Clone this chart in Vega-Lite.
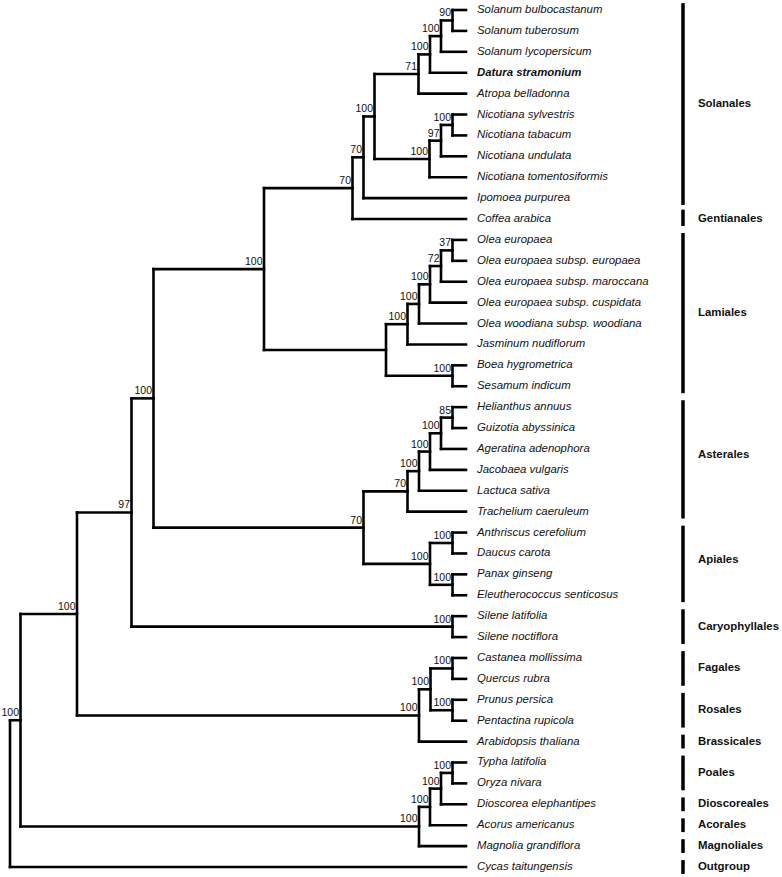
{
  "$schema": "https://vega.github.io/schema/vega-lite/v6.json",
  "width": 782,
  "height": 877,
  "padding": 0,
  "autosize": {"type": "fit", "contains": "padding"},
  "background": "white",
  "config": {"view": {"stroke": null}},
  "datasets": {
    "tree": [
      {"id": "L0", "parent": "A", "x": 466, "y": 0, "label": "Solanum bulbocastanum"},
      {"id": "L1", "parent": "A", "x": 466, "y": 1, "label": "Solanum tuberosum"},
      {"id": "L2x", "parent": "B", "x": 466, "y": 2, "label": "Solanum lycopersicum"},
      {"id": "L3", "parent": "C", "x": 466, "y": 3, "label": "Datura stramonium"},
      {"id": "L4", "parent": "D", "x": 466, "y": 4, "label": "Atropa belladonna"},
      {"id": "L5", "parent": "N1", "x": 466, "y": 5, "label": "Nicotiana sylvestris"},
      {"id": "L6", "parent": "N1", "x": 466, "y": 6, "label": "Nicotiana tabacum"},
      {"id": "L7", "parent": "N2", "x": 466, "y": 7, "label": "Nicotiana undulata"},
      {"id": "L8", "parent": "N3", "x": 466, "y": 8, "label": "Nicotiana tomentosiformis"},
      {"id": "L9", "parent": "F", "x": 466, "y": 9, "label": "Ipomoea purpurea"},
      {"id": "L10", "parent": "G", "x": 466, "y": 10, "label": "Coffea arabica"},
      {"id": "L11", "parent": "O1", "x": 466, "y": 11, "label": "Olea europaea"},
      {"id": "L12", "parent": "O1", "x": 466, "y": 12, "label": "Olea europaea subsp. europaea"},
      {"id": "L13", "parent": "O2", "x": 466, "y": 13, "label": "Olea europaea subsp. maroccana"},
      {"id": "L14", "parent": "O3", "x": 466, "y": 14, "label": "Olea europaea subsp. cuspidata"},
      {"id": "L15", "parent": "O4", "x": 466, "y": 15, "label": "Olea woodiana subsp. woodiana"},
      {"id": "L16", "parent": "O5", "x": 466, "y": 16, "label": "Jasminum nudiflorum"},
      {"id": "L17", "parent": "BS", "x": 466, "y": 17, "label": "Boea hygrometrica"},
      {"id": "L18", "parent": "BS", "x": 466, "y": 18, "label": "Sesamum indicum"},
      {"id": "L19", "parent": "H1", "x": 466, "y": 19, "label": "Helianthus annuus"},
      {"id": "L20", "parent": "H1", "x": 466, "y": 20, "label": "Guizotia abyssinica"},
      {"id": "L21", "parent": "H2", "x": 466, "y": 21, "label": "Ageratina adenophora"},
      {"id": "L22", "parent": "H3", "x": 466, "y": 22, "label": "Jacobaea vulgaris"},
      {"id": "L23", "parent": "H4", "x": 466, "y": 23, "label": "Lactuca sativa"},
      {"id": "L24", "parent": "H5", "x": 466, "y": 24, "label": "Trachelium caeruleum"},
      {"id": "L25", "parent": "A1", "x": 466, "y": 25, "label": "Anthriscus cerefolium"},
      {"id": "L26", "parent": "A1", "x": 466, "y": 26, "label": "Daucus carota"},
      {"id": "L27", "parent": "A2", "x": 466, "y": 27, "label": "Panax ginseng"},
      {"id": "L28", "parent": "A2", "x": 466, "y": 28, "label": "Eleutherococcus senticosus"},
      {"id": "L29", "parent": "Car", "x": 466, "y": 29, "label": "Silene latifolia"},
      {"id": "L30", "parent": "Car", "x": 466, "y": 30, "label": "Silene noctiflora"},
      {"id": "L31", "parent": "R1", "x": 466, "y": 31, "label": "Castanea mollissima"},
      {"id": "L32", "parent": "R1", "x": 466, "y": 32, "label": "Quercus rubra"},
      {"id": "L33", "parent": "R2", "x": 466, "y": 33, "label": "Prunus persica"},
      {"id": "L34", "parent": "R2", "x": 466, "y": 34, "label": "Pentactina rupicola"},
      {"id": "L35", "parent": "R4", "x": 466, "y": 35, "label": "Arabidopsis thaliana"},
      {"id": "L36", "parent": "M1", "x": 466, "y": 36, "label": "Typha latifolia"},
      {"id": "L37", "parent": "M1", "x": 466, "y": 37, "label": "Oryza nivara"},
      {"id": "L38", "parent": "M2", "x": 466, "y": 38, "label": "Dioscorea elephantipes"},
      {"id": "L39", "parent": "M3", "x": 466, "y": 39, "label": "Acorus americanus"},
      {"id": "L40", "parent": "M4", "x": 466, "y": 40, "label": "Magnolia grandiflora"},
      {"id": "L41", "parent": "Root", "x": 466, "y": 41, "label": "Cycas taitungensis"},
      {"id": "A", "parent": "B", "x": 452.5, "y": 0.5, "bs": "90"},
      {"id": "B", "parent": "C", "x": 441, "y": 1.25, "bs": "100"},
      {"id": "C", "parent": "D", "x": 430, "y": 2.125, "bs": "100"},
      {"id": "D", "parent": "E", "x": 418.5, "y": 3.0625, "bs": "71"},
      {"id": "N1", "parent": "N2", "x": 452.5, "y": 5.5, "bs": "100"},
      {"id": "N2", "parent": "N3", "x": 441, "y": 6.25, "bs": "97"},
      {"id": "N3", "parent": "E", "x": 429.5, "y": 7.125, "bs": "100"},
      {"id": "E", "parent": "F", "x": 374.5, "y": 5.094, "bs": "100"},
      {"id": "F", "parent": "G", "x": 363.5, "y": 7.047, "bs": "70"},
      {"id": "G", "parent": "H", "x": 352.5, "y": 8.523, "bs": "70"},
      {"id": "O1", "parent": "O2", "x": 452.5, "y": 11.5, "bs": "37"},
      {"id": "O2", "parent": "O3", "x": 441, "y": 12.25, "bs": "72"},
      {"id": "O3", "parent": "O4", "x": 430, "y": 13.125, "bs": "100"},
      {"id": "O4", "parent": "O5", "x": 419, "y": 14.0625, "bs": "100"},
      {"id": "O5", "parent": "Lam", "x": 407.5, "y": 15.031, "bs": "100"},
      {"id": "BS", "parent": "Lam", "x": 452.5, "y": 17.5, "bs": "100"},
      {"id": "Lam", "parent": "H", "x": 386, "y": 16.266},
      {"id": "H", "parent": "I", "x": 264, "y": 12.395, "bs": "100"},
      {"id": "H1", "parent": "H2", "x": 452.5, "y": 19.5, "bs": "85"},
      {"id": "H2", "parent": "H3", "x": 441, "y": 20.25, "bs": "100"},
      {"id": "H3", "parent": "H4", "x": 430, "y": 21.125, "bs": "100"},
      {"id": "H4", "parent": "H5", "x": 419, "y": 22.0625, "bs": "100"},
      {"id": "H5", "parent": "AA", "x": 407.5, "y": 23.031, "bs": "70"},
      {"id": "A1", "parent": "A3", "x": 452.5, "y": 25.5, "bs": "100"},
      {"id": "A2", "parent": "A3", "x": 452.5, "y": 27.5, "bs": "100"},
      {"id": "A3", "parent": "AA", "x": 430, "y": 26.5, "bs": "100"},
      {"id": "AA", "parent": "I", "x": 363.5, "y": 24.766, "bs": "70"},
      {"id": "I", "parent": "J", "x": 153.5, "y": 18.58, "bs": "100"},
      {"id": "Car", "parent": "J", "x": 452.5, "y": 29.5, "bs": "100"},
      {"id": "J", "parent": "K", "x": 131.5, "y": 24.04, "bs": "97"},
      {"id": "R1", "parent": "R3", "x": 452.5, "y": 31.5, "bs": "100"},
      {"id": "R2", "parent": "R3", "x": 452.5, "y": 33.5, "bs": "100"},
      {"id": "R3", "parent": "R4", "x": 430.5, "y": 32.5, "bs": "100"},
      {"id": "R4", "parent": "K", "x": 419, "y": 33.75, "bs": "100"},
      {"id": "K", "parent": "L2", "x": 77, "y": 28.895, "bs": "100"},
      {"id": "M1", "parent": "M2", "x": 452.5, "y": 36.5, "bs": "100"},
      {"id": "M2", "parent": "M3", "x": 441, "y": 37.25, "bs": "100"},
      {"id": "M3", "parent": "M4", "x": 430, "y": 38.125, "bs": "100"},
      {"id": "M4", "parent": "L2", "x": 419, "y": 39.0625, "bs": "100"},
      {"id": "L2", "parent": "Root", "x": 20.5, "y": 33.979, "bs": "100"},
      {"id": "Root", "x": 10, "y": 37.489}
    ],
    "clades": [
      {"clade": "Solanales", "bx": 683, "y1": -0.33, "y2": 9.33, "ym": 4.5},
      {"clade": "Gentianales", "bx": 683, "y1": 9.55, "y2": 10.33, "ym": 10},
      {"clade": "Lamiales", "bx": 683, "y1": 10.67, "y2": 18.33, "ym": 14.5},
      {"clade": "Asterales", "bx": 683, "y1": 18.67, "y2": 24.33, "ym": 21.3},
      {"clade": "Apiales", "bx": 683, "y1": 24.67, "y2": 28.33, "ym": 26.3},
      {"clade": "Caryophyllales", "bx": 683, "y1": 28.67, "y2": 30.33, "ym": 29.5},
      {"clade": "Fagales", "bx": 683, "y1": 30.67, "y2": 32.33, "ym": 31.5},
      {"clade": "Rosales", "bx": 683, "y1": 32.67, "y2": 34.33, "ym": 33.5},
      {"clade": "Brassicales", "bx": 683, "y1": 34.67, "y2": 35.33, "ym": 35},
      {"clade": "Poales", "bx": 683, "y1": 35.67, "y2": 37.33, "ym": 36.5},
      {"clade": "Dioscoreales", "bx": 683, "y1": 37.67, "y2": 38.33, "ym": 38},
      {"clade": "Acorales", "bx": 683, "y1": 38.67, "y2": 39.33, "ym": 39},
      {"clade": "Magnoliales", "bx": 683, "y1": 39.67, "y2": 40.33, "ym": 40},
      {"clade": "Outgroup", "bx": 683, "y1": 40.67, "y2": 41.33, "ym": 41}
    ]
  },
  "layer": [
    {
      "data": {"name": "tree"},
      "transform": [
        {"filter": "datum.parent != null"},
        {"lookup": "parent", "from": {"data": {"name": "tree"}, "key": "id", "fields": ["x"]}, "as": ["px"]}
      ],
      "mark": {"type": "rule", "stroke": "#000", "strokeWidth": 2.6, "strokeCap": "square"},
      "encoding": {
        "x": {"field": "px", "type": "quantitative", "scale": {"domain": [0, 782], "nice": false, "zero": false}, "axis": null},
        "x2": {"field": "x"},
        "y": {"field": "y", "type": "quantitative", "scale": {"domain": [-0.4785, 41.4785], "reverse": true, "nice": false, "zero": false}, "axis": null}
      }
    },
    {
      "data": {"name": "tree"},
      "transform": [
        {"filter": "datum.parent != null"},
        {"aggregate": [{"op": "min", "field": "y", "as": "ymin"}, {"op": "max", "field": "y", "as": "ymax"}], "groupby": ["parent"]},
        {"lookup": "parent", "from": {"data": {"name": "tree"}, "key": "id", "fields": ["x"]}}
      ],
      "mark": {"type": "rule", "stroke": "#000", "strokeWidth": 2.6, "strokeCap": "square"},
      "encoding": {
        "x": {"field": "x", "type": "quantitative"},
        "y": {"field": "ymin", "type": "quantitative"},
        "y2": {"field": "ymax"}
      }
    },
    {
      "data": {"name": "tree"},
      "transform": [{"filter": "datum.label != null && datum.label !== 'Datura stramonium'"}],
      "mark": {"type": "text", "align": "left", "baseline": "middle", "dx": 11, "fontStyle": "italic", "font": "Liberation Sans, Arial, sans-serif", "fontSize": 11.4, "fill": "#111"},
      "encoding": {
        "x": {"field": "x", "type": "quantitative"},
        "y": {"field": "y", "type": "quantitative"},
        "text": {"field": "label"}
      }
    },
    {
      "data": {"name": "tree"},
      "transform": [{"filter": "datum.label === 'Datura stramonium'"}],
      "mark": {"type": "text", "align": "left", "baseline": "middle", "dx": 11, "fontStyle": "italic", "fontWeight": "bold", "font": "Liberation Sans, Arial, sans-serif", "fontSize": 11.4, "fill": "#111"},
      "encoding": {
        "x": {"field": "x", "type": "quantitative"},
        "y": {"field": "y", "type": "quantitative"},
        "text": {"field": "label"}
      }
    },
    {
      "data": {"name": "tree"},
      "transform": [{"filter": "datum.bs != null"}],
      "mark": {"type": "text", "align": "right", "baseline": "alphabetic", "dx": -1.5, "dy": -4, "font": "Liberation Sans, Arial, sans-serif", "fontSize": 10.5, "fill": "#111"},
      "encoding": {
        "x": {"field": "x", "type": "quantitative"},
        "y": {"field": "y", "type": "quantitative"},
        "text": {"field": "bs"}
      }
    },
    {
      "data": {"name": "clades"},
      "mark": {"type": "rule", "stroke": "#000", "strokeWidth": 3.5},
      "encoding": {
        "x": {"field": "bx", "type": "quantitative"},
        "y": {"field": "y1", "type": "quantitative"},
        "y2": {"field": "y2"}
      }
    },
    {
      "data": {"name": "clades"},
      "mark": {"type": "text", "align": "left", "baseline": "middle", "dx": 15, "fontWeight": "bold", "font": "Liberation Sans, Arial, sans-serif", "fontSize": 11.4, "fill": "#111"},
      "encoding": {
        "x": {"field": "bx", "type": "quantitative"},
        "y": {"field": "ym", "type": "quantitative"},
        "text": {"field": "clade"}
      }
    }
  ]
}
